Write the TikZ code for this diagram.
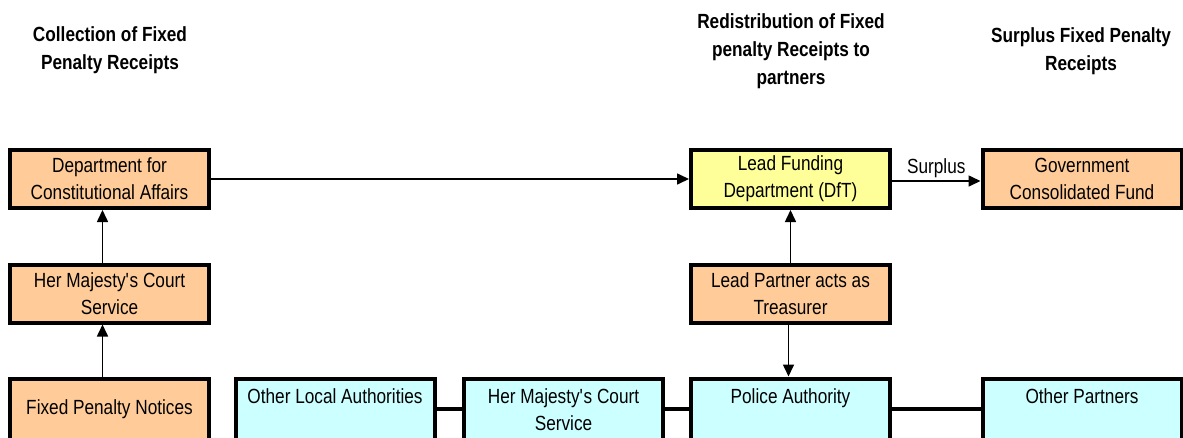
\documentclass[tikz,border=0pt]{standalone}
\usepackage{fontspec}
\setmainfont{Liberation Sans}[FakeStretch=0.84]
\usetikzlibrary{arrows.meta}

\definecolor{boxorange}{HTML}{FFCC99}
\definecolor{boxyellow}{HTML}{FFFF99}
\definecolor{boxcyan}{HTML}{CCFFFF}

\tikzset{
    box/.style={draw, line width=4pt, minimum width=199pt, minimum height=58pt,
        inner sep=0pt, align=center, font=\fontsize{20.5}{27}\selectfont},
    lowbox/.style={box, minimum height=62pt},
    flow/.style={-{Triangle[length=12pt,width=11pt]}, line width=1.6pt},
    link/.style={line width=4pt},
    heading/.style={align=center, font=\fontsize{20.5}{28}\selectfont\bfseries}
}

\begin{document}
\begin{tikzpicture}[x=1pt, y=-1pt]
    \useasboundingbox (0,0) rectangle (1183,437);

    % Draw the column headings
    \node[heading] (hcollect) at (110,50) {Collection of Fixed\\Penalty Receipts};
    \node[heading] (hredist) at (791,51) {Redistribution of Fixed\\penalty Receipts to\\partners};
    \node[heading] (hsurplus) at (1081,51) {Surplus Fixed Penalty\\Receipts};

    % Draw the collection column
    \node[box, fill=boxorange] (dca) at (109.5,179) {Department for\\Constitutional Affairs};
    \node[box, fill=boxorange] (hmcs) at (109.5,293.5) {Her Majesty\textquotesingle s Court\\Service};
    \node[lowbox, fill=boxorange] (fpn) at (109.5,409.5) {Fixed Penalty Notices};

    % Draw the redistribution boxes
    \node[box, fill=boxyellow] (lfd) at (790.5,179) {Lead Funding\\Department (DfT)};
    \node[box, fill=boxorange] (lpt) at (790.5,293.5) {Lead Partner acts as\\Treasurer};
    \node[box, fill=boxorange] (gcf) at (1082,179) {Government\\Consolidated Fund};

    % Draw the partners row
    \node[lowbox, fill=boxcyan] (ola) at (335,409.5) {Other Local Authorities\\\phantom{S}};
    \node[lowbox, fill=boxcyan] (hmcsp) at (563.5,409.5) {Her Majesty\textquotesingle s Court\\Service};
    \node[lowbox, fill=boxcyan] (pa) at (790.5,409.5) {Police Authority\\\phantom{S}};
    \node[lowbox, fill=boxcyan] (op) at (1082,409.5) {Other Partners\\\phantom{S}};

    % Draw the arrows
    \draw[flow] ([xshift=-7pt]fpn.north) -- ([xshift=-7pt]hmcs.south);
    \draw[flow] ([xshift=-7pt]hmcs.north) -- ([xshift=-7pt]dca.south);
    \draw[flow] (dca.east) -- (lfd.west);
    \draw[flow] (lpt.north) -- (lfd.south);
    \draw[flow] ([xshift=-2pt]lpt.south) -- ([xshift=-2pt]pa.north);
    \draw[flow] ([yshift=-2pt]lfd.east) -- node[above=-1pt, font=\fontsize{20.5}{27}\selectfont] {Surplus} ([yshift=-2pt]gcf.west);

    % Link the partners
    \foreach \a/\b in {ola/hmcsp, hmcsp/pa, pa/op} {
        \draw[link] ([yshift=0.5pt]\a.east) -- ([yshift=0.5pt]\b.west);
    }

\end{tikzpicture}
\end{document}
